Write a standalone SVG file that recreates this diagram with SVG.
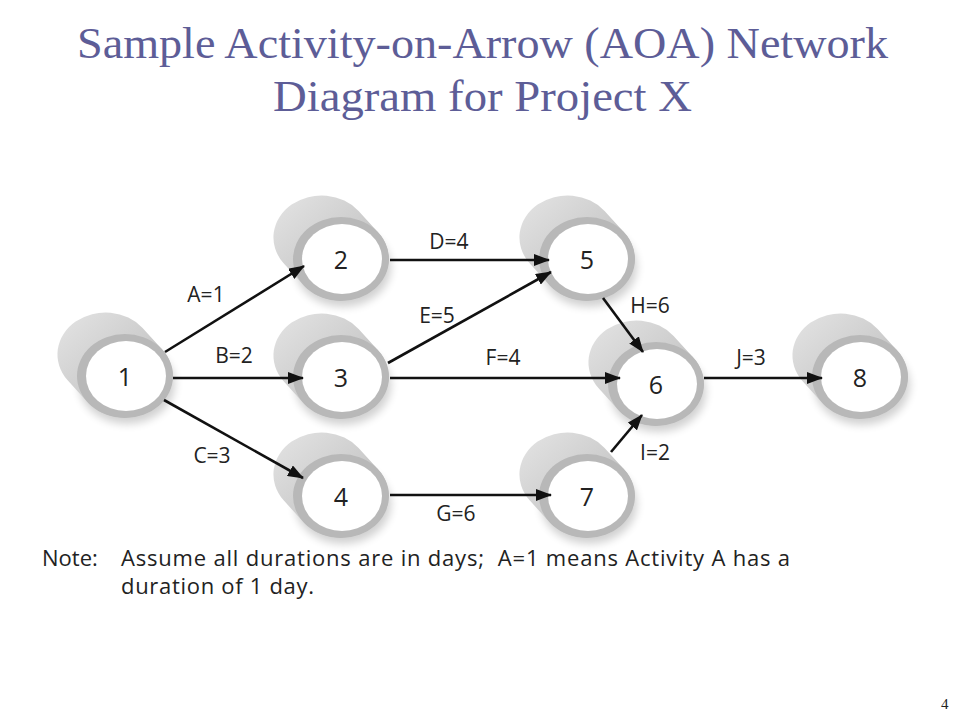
<svg xmlns="http://www.w3.org/2000/svg" xmlns:xlink="http://www.w3.org/1999/xlink" width="960" height="720" viewBox="0 0 960 720">
<style>
.title{font-family:"Liberation Serif","Times New Roman",serif;font-size:44px;fill:#5d5d97}
.num{font-family:"Open Sans","Liberation Sans",sans-serif;font-size:25px;fill:#222;text-anchor:middle;dominant-baseline:central}
.lbl{font-family:"Open Sans","Liberation Sans",sans-serif;font-size:21px;fill:#222;text-anchor:middle}
.note{font-family:"Open Sans","Liberation Sans",sans-serif;font-size:22px;fill:#222;white-space:pre}
.arr{stroke:#111;stroke-width:2.6;fill:none;marker-end:url(#ah)}
.pg{font-family:"Liberation Serif",serif;font-size:15px;fill:#222}
</style>
<defs>
<marker id="ah" viewBox="0 0 16 12" refX="15" refY="6" markerWidth="16" markerHeight="12" markerUnits="userSpaceOnUse" orient="auto">
<path d="M0,0 L16,6 L0,12 Z" fill="#111"/>
</marker>
<linearGradient id="body" x1="0" y1="0" x2="1" y2="1">
<stop offset="0" stop-color="#e4e4e4"/>
<stop offset="0.5" stop-color="#cdcdcd"/>
<stop offset="1" stop-color="#a0a0a0"/>
</linearGradient>
<filter id="sh" x="-30%" y="-30%" width="160%" height="160%">
<feGaussianBlur stdDeviation="4"/>
</filter>
<g id="cyl">
<ellipse cx="2" cy="8" rx="48" ry="40" fill="#000" opacity="0.18" filter="url(#sh)"/>
<path d="M37.6,-26.1 L17.6,-48.1 A48 42 0 0 0 -57.6,4.1 L-37.6,26.1 A48 42 0 0 0 37.6,-26.1 Z" fill="url(#body)"/>
<ellipse cx="0" cy="0" rx="48" ry="42" fill="#b8b8b8"/>
<ellipse cx="1" cy="0" rx="40" ry="35" fill="#fff"/>
</g>
</defs>
<rect width="960" height="720" fill="#fff"/>
<text class="title" x="77" y="58" textLength="811" lengthAdjust="spacingAndGlyphs">Sample Activity-on-Arrow (AOA) Network</text>
<text class="title" x="273" y="111" textLength="419" lengthAdjust="spacingAndGlyphs">Diagram for Project X</text>

<g id="node1" transform="translate(125,376)"><use xlink:href="#cyl"/><text class="num" x="0" y="0">1</text></g>
<g id="node2" transform="translate(341,259)"><use xlink:href="#cyl"/><text class="num" x="0" y="0">2</text></g>
<g id="node3" transform="translate(341,377)"><use xlink:href="#cyl"/><text class="num" x="0" y="0">3</text></g>
<g id="node4" transform="translate(341,496)"><use xlink:href="#cyl"/><text class="num" x="0" y="0">4</text></g>
<g id="node5" transform="translate(587,259)"><use xlink:href="#cyl"/><text class="num" x="0" y="0">5</text></g>
<g id="node6" transform="translate(656,384)"><use xlink:href="#cyl"/><text class="num" x="0" y="0">6</text></g>
<g id="node7" transform="translate(587,496)"><use xlink:href="#cyl"/><text class="num" x="0" y="0">7</text></g>
<g id="node8" transform="translate(860,377)"><use xlink:href="#cyl"/><text class="num" x="0" y="0">8</text></g>

<g id="connectors">
<line class="arr" x1="165" y1="352" x2="304" y2="266"/>
<line class="arr" x1="173" y1="378" x2="303" y2="378"/>
<line class="arr" x1="164" y1="400" x2="303" y2="478"/>
<line class="arr" x1="390" y1="260" x2="549" y2="260"/>
<line class="arr" x1="388" y1="363" x2="551" y2="272"/>
<line class="arr" x1="390" y1="378" x2="620" y2="378"/>
<line class="arr" x1="603" y1="298" x2="643" y2="352"/>
<line class="arr" x1="611" y1="452" x2="642" y2="415"/>
<line class="arr" x1="704" y1="378" x2="822" y2="378"/>
<line class="arr" x1="390" y1="495" x2="551" y2="495"/>
<text class="lbl" x="206" y="302">A=1</text>
<text class="lbl" x="234" y="363">B=2</text>
<text class="lbl" x="212" y="463">C=3</text>
<text class="lbl" x="449" y="249">D=4</text>
<text class="lbl" x="437" y="323">E=5</text>
<text class="lbl" x="503" y="365">F=4</text>
<text class="lbl" x="650" y="313">H=6</text>
<text class="lbl" x="655" y="460">I=2</text>
<text class="lbl" x="751" y="365">J=3</text>
<text class="lbl" x="456" y="521">G=6</text>
</g>

<text class="note" x="42" y="566">Note:</text>
<text class="note" x="121" y="566" textLength="669" lengthAdjust="spacing">Assume all durations are in days;  A=1 means Activity A has a</text>
<text class="note" x="121" y="594" textLength="193" lengthAdjust="spacing">duration of 1 day.</text>
<text class="pg" x="941" y="709">4</text>
</svg>
